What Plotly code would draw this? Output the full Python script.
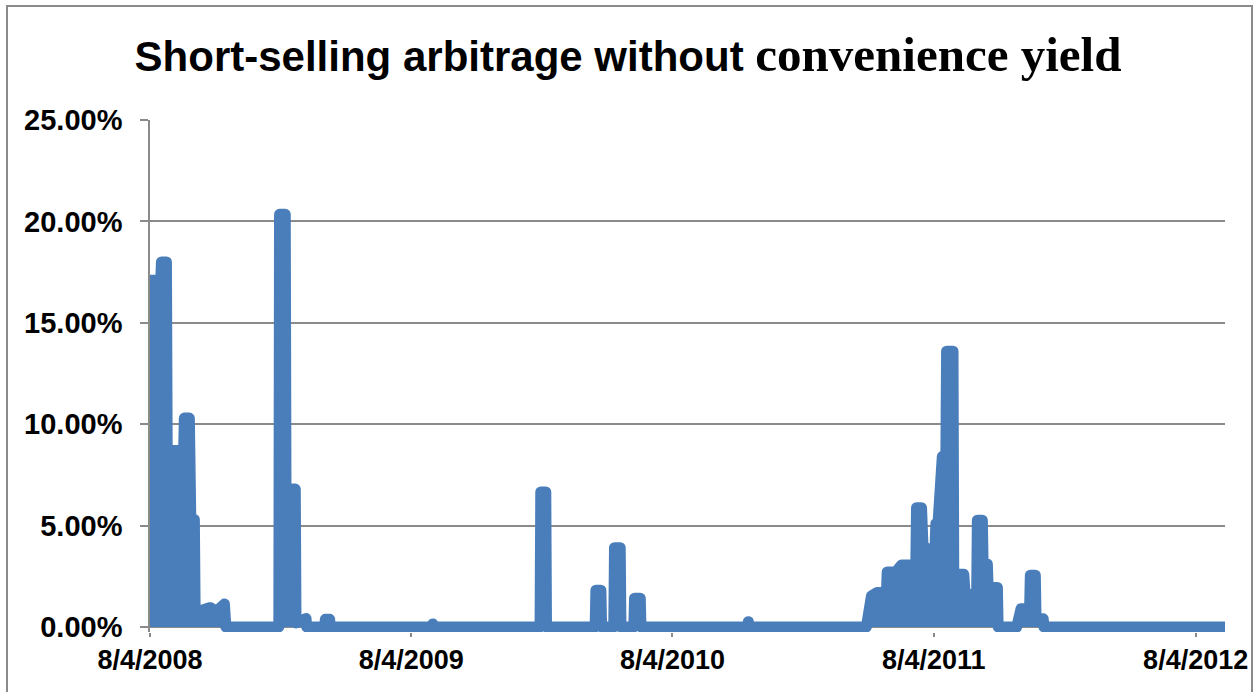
import plotly.graph_objects as go

# Daily short-selling arbitrage (% of price); zero on days without an opportunity
dates = [
    "2008-08-04", "2008-08-05", "2008-08-19", "2008-08-20", "2008-08-27", "2008-08-28",
    "2008-09-20", "2008-09-21", "2008-09-28", "2008-09-30", "2008-10-05", "2008-10-06",
    "2008-10-10", "2008-10-25", "2008-10-28", "2008-11-04", "2008-11-13", "2008-11-16",
    "2008-11-18",
    "2009-01-31", "2009-02-01", "2009-02-09", "2009-02-10", "2009-02-23", "2009-02-24",
    "2009-03-10", "2009-03-11", "2009-04-05", "2009-04-06", "2009-04-12", "2009-04-13",
    "2009-09-02", "2009-09-03", "2009-09-04",
    "2010-01-31", "2010-02-01", "2010-02-08", "2010-02-09",
    "2010-04-18", "2010-04-19", "2010-04-26", "2010-04-27",
    "2010-05-14", "2010-05-15", "2010-05-23", "2010-05-24",
    "2010-06-11", "2010-06-12", "2010-06-20", "2010-06-21",
    "2010-11-17", "2010-11-18", "2010-11-19",
    "2011-05-02", "2011-05-07", "2011-05-09", "2011-05-17", "2011-05-30", "2011-05-31",
    "2011-06-12", "2011-06-20", "2011-07-10", "2011-07-11", "2011-07-18", "2011-07-20",
    "2011-07-22", "2011-07-24", "2011-08-05", "2011-08-07", "2011-08-10", "2011-08-16",
    "2011-08-21", "2011-08-22", "2011-08-31", "2011-09-01", "2011-09-15", "2011-09-17",
    "2011-10-03", "2011-10-04", "2011-10-11", "2011-10-12", "2011-10-18", "2011-10-19",
    "2011-11-01", "2011-11-02", "2011-11-28", "2011-12-04", "2011-12-16", "2011-12-17",
    "2011-12-24", "2011-12-25", "2012-01-04", "2012-01-05",
    "2012-09-14",
]
values = [
    17.1, 17.1, 17.1, 18.0, 18.0, 8.7,
    8.7, 10.3, 10.3, 5.3, 5.3, 1.05,
    0.75, 0.94, 0.94, 0.75, 1.13, 1.13,
    0.0,
    0.0, 20.35, 20.35, 6.8, 6.8, 0.2,
    0.42, 0.0, 0.0, 0.38, 0.38, 0.0,
    0.0, 0.15, 0.0,
    0.0, 6.66, 6.66, 0.0,
    0.0, 1.81, 1.81, 0.0,
    0.0, 3.91, 3.91, 0.0,
    0.0, 1.42, 1.42, 0.0,
    0.0, 0.26, 0.0,
    0.0, 1.53, 1.53, 1.7, 1.7, 2.71,
    2.71, 3.05, 3.05, 5.88, 5.88, 4.0,
    4.0, 3.0, 3.0, 5.1, 5.1, 8.4,
    8.4, 13.6, 13.6, 2.6, 2.6, 1.6,
    1.6, 5.26, 5.26, 3.1, 3.1, 1.95,
    1.95, 0.0, 0.0, 0.9, 0.9, 2.55,
    2.55, 0.4, 0.4, 0.0,
    0.0,
]

x_tick_dates = ["2008-08-04", "2009-08-04", "2010-08-04", "2011-08-04", "2012-08-04"]
x_tick_labels = ["8/4/2008", "8/4/2009", "8/4/2010", "8/4/2011", "8/4/2012"]
y_ticks = [0, 5, 10, 15, 20, 25]
y_tick_labels = ["0.00%", "5.00%", "10.00%", "15.00%", "20.00%", "25.00%"]

BLUE = "#4A7EBB"
GREY = "#8A8A8A"

fig = go.Figure()
fig.add_trace(go.Scatter(
    x=dates, y=values, mode="lines",
    line=dict(color=BLUE, width=11),
    fill="tozeroy", fillcolor=BLUE,
    hoverinfo="x+y", showlegend=False,
))

fig.update_layout(
    width=1256, height=692, autosize=False,
    margin=dict(l=150, r=31, t=120, b=60),
    paper_bgcolor="white", plot_bgcolor="white",
    title=dict(
        text=("<b>Short-selling arbitrage without "
              "<span style=\"font-family:Liberation Serif;font-size:49px\">convenience yield</span></b>"),
        font=dict(family="Liberation Sans, Arial", size=42, color="black"),
        x=0.5, xref="container", xanchor="center",
        y=1 - 56 / 692, yref="container", yanchor="middle",
    ),
    xaxis=dict(
        type="date", range=["2008-08-04", "2012-09-14"], automargin=False,
        tickmode="array", tickvals=x_tick_dates, ticktext=x_tick_labels,
        ticks="outside", ticklen=4, tickwidth=1.5, tickcolor=GREY,
        showgrid=False, showline=False, zeroline=False,
        tickfont=dict(family="Liberation Sans, Arial", size=27, color="black", weight="bold"),
    ),
    yaxis=dict(
        range=[-0.25, 25], automargin=False,
        tickmode="array", tickvals=y_ticks, ticktext=y_tick_labels,
        ticks="outside", ticklen=8, tickwidth=1.5, tickcolor=GREY,
        ticklabelstandoff=12,
        showgrid=True, gridcolor=GREY, gridwidth=1.5,
        showline=True, linecolor=GREY, linewidth=1.5, zeroline=False,
        tickfont=dict(family="Liberation Sans, Arial", size=29, color="black", weight="bold"),
    ),
    shapes=[dict(
        type="rect", xref="paper", yref="paper",
        x0=(7 - 150) / 1075, x1=(1252 - 150) / 1075,
        y0=(632 - 700) / 512, y1=(632 - 6) / 512,
        line=dict(color=GREY, width=2), fillcolor="rgba(0,0,0,0)", layer="below",
    )],
)

# Rounded joins and caps on the thick series line
round_joins = (
    "var s=document.createElement('style');"
    "s.textContent='path.js-line{stroke-linejoin:round !important;"
    "stroke-linecap:round !important;}';"
    "document.head.appendChild(s);"
    "document.querySelectorAll('path.js-line').forEach(function(p){"
    "p.setAttribute('stroke-linejoin','round');p.setAttribute('stroke-linecap','round');"
    "p.style.setProperty('stroke-linejoin','round','important');"
    "p.style.setProperty('stroke-linecap','round','important');});"
)
fig.write_html("out.html", post_script=round_joins)
